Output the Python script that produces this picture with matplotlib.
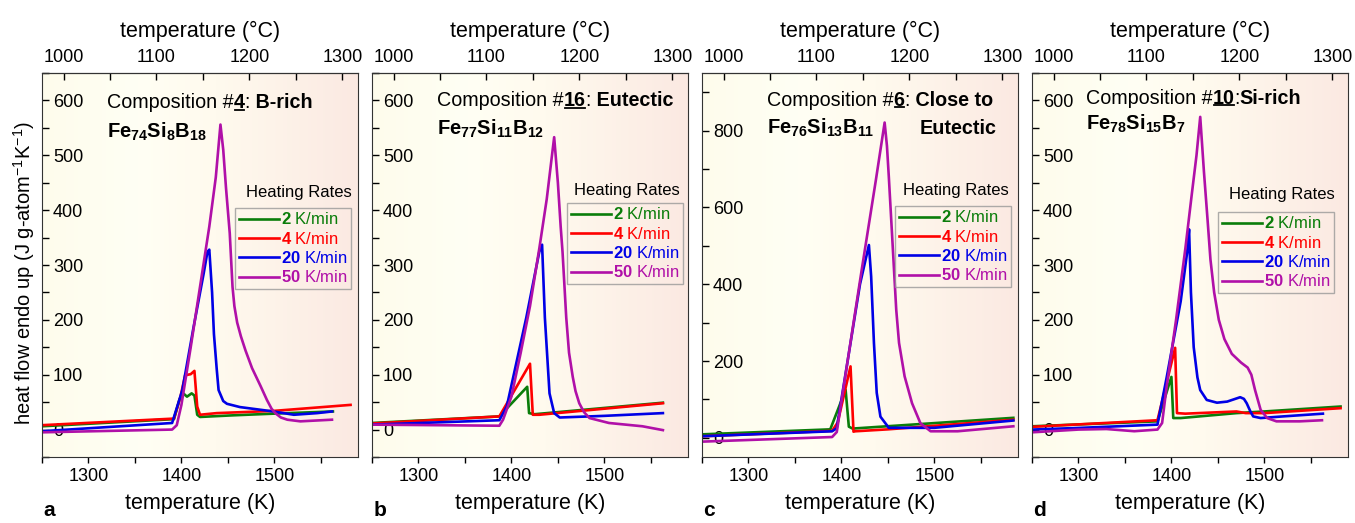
import numpy as np
import matplotlib
matplotlib.use("Agg")
import matplotlib.pyplot as plt
from matplotlib.lines import Line2D
from matplotlib.colors import LinearSegmentedColormap
from matplotlib.ticker import MultipleLocator
from matplotlib.transforms import IdentityTransform

plt.rcParams['font.family'] = ['Liberation Sans', 'DejaVu Sans']
plt.rcParams['mathtext.fontset'] = 'custom'
plt.rcParams['mathtext.rm'] = 'Liberation Sans'
plt.rcParams['mathtext.it'] = 'Liberation Sans:italic'
plt.rcParams['mathtext.bf'] = 'Liberation Sans:bold'

rates = ["2", "4", "20", "50"]
colors = ["#0a7d0a", "#ff0000", "#0000e6", "#b010a8"]

# ---- panel a : composition #4, B-rich ----
a_T2 = [1250, 1392, 1398, 1402, 1406, 1411, 1414, 1417, 1420, 1456, 1499, 1563]
a_y2 = [6, 19, 55, 66, 60, 66, 62, 27, 23, 26, 29, 33]
a_T4 = [1250, 1392, 1399, 1404, 1410, 1414, 1417, 1420, 1438, 1499, 1582]
a_y4 = [8, 20, 60, 99, 101, 107, 42, 27, 30, 34, 45]
a_T20 = [1250, 1390, 1401, 1413, 1424, 1428, 1430, 1433, 1435, 1438, 1440, 1445, 1449, 1463,
         1499, 1521, 1546, 1562]
a_y20 = [-3, 12, 72, 186, 285, 324, 328, 250, 174, 110, 72, 52, 47, 41, 33, 27, 30, 33]
a_T50 = [1250, 1390, 1395, 1400, 1410, 1420, 1430, 1437, 1442, 1445, 1448, 1452, 1455, 1457,
         1460, 1464, 1469, 1476, 1485, 1492, 1497, 1501, 1507, 1514, 1528, 1562]
a_y50 = [-5, 0, 8, 45, 150, 260, 370, 460, 556, 510, 440, 358, 260, 225, 195, 170, 144, 112,
         80, 54, 38, 30, 22, 18, 15, 18]

# ---- panel b : composition #16, eutectic ----
b_T2 = [1250, 1387, 1417, 1419, 1425, 1563]
b_y2 = [12, 24, 78, 30, 28, 49]
b_T4 = [1250, 1387, 1420, 1423, 1430, 1563]
b_y4 = [11, 24, 120, 27, 27, 48]
b_T20 = [1250, 1387, 1395, 1416, 1430, 1433, 1436, 1441, 1446, 1452, 1500, 1563]
b_y20 = [9, 17, 42, 204, 324, 337, 204, 66, 30, 22, 25, 30]
b_T50 = [1250, 1387, 1391, 1400, 1410, 1420, 1430, 1438, 1446, 1450, 1453, 1455, 1459, 1462,
         1466, 1469, 1473, 1478, 1484, 1505, 1541, 1563]
b_y50 = [9, 7, 18, 60, 140, 225, 330, 420, 533, 450, 370, 324, 204, 140, 96, 70, 48, 32, 21,
         12, 6, -1]

# ---- panel c : composition #6, close to eutectic ----
c_T2 = [1250, 1388, 1404.5, 1408, 1412, 1585]
c_y2 = [9, 22, 125, 29, 24, 52]
c_T4 = [1250, 1390, 1396, 1409.8, 1413, 1415, 1450, 1585]
c_y4 = [4, 18, 40, 186, 16, 17, 22, 47]
c_T20 = [1250, 1390, 1395, 1410, 1420, 1429.6, 1432, 1435, 1438, 1442, 1451, 1500, 1585]
c_y20 = [4, 17, 25, 250, 400, 502, 420, 247, 117, 55, 26, 26, 45]
c_T50 = [1250, 1390, 1395, 1400, 1422, 1437, 1446.5, 1449, 1451, 1455, 1459, 1462, 1468, 1476,
         1485, 1496, 1525, 1585]
c_y50 = [-10, 2, 15, 95, 440, 670, 821, 760, 680, 507, 333, 247, 160, 90, 38, 17, 17, 30]

# ---- panel d : composition #10, Si-rich ----
d_T2 = [1250, 1385, 1400, 1402, 1410, 1470, 1500, 1582]
d_y2 = [6, 15, 96, 21, 21, 30, 33, 42]
d_T4 = [1250, 1385, 1404, 1406, 1415, 1470, 1480, 1500, 1582]
d_y4 = [5, 17, 149, 30, 29, 33, 30, 30, 39]
d_T20 = [1250, 1300, 1385, 1395, 1410, 1417, 1419, 1421, 1424, 1428, 1431, 1438, 1449, 1460,
         1474, 1478, 1481, 1485, 1488, 1496, 1520, 1563]
d_y20 = [0, 3, 9, 96, 234, 324, 365, 250, 150, 95, 72, 54, 49, 51, 59, 56, 48, 33, 24, 21, 24,
         29]
d_T50 = [1250, 1300, 1330, 1360, 1385, 1390, 1395, 1405, 1415, 1422, 1427, 1431, 1435, 1439,
         1442, 1446, 1451, 1457, 1465, 1475, 1482, 1486, 1490, 1496, 1503, 1513, 1538, 1562]
d_y50 = [-5, 0, 1, -3, 0, 12, 80, 200, 330, 430, 500, 570, 470, 380, 310, 250, 200, 165, 138,
         122, 113, 100, 72, 36, 21, 15, 15, 17]

panels = [
    dict(T=[a_T2, a_T4, a_T20, a_T50], y=[a_y2, a_y4, a_y20, a_y50], ylim=(-50, 650), major=100,
         minor=50, num="4", tail=" B-rich", formula=r"$\mathbf{Fe_{74}Si_{8}B_{18}}$", extra=None,
         left=42, title_xy=(107, 103), form_y=132, leg=(351, 208), heat=(299, 193), letter="a"),
    dict(T=[b_T2, b_T4, b_T20, b_T50], y=[b_y2, b_y4, b_y20, b_y50], ylim=(-50, 650), major=100,
         minor=50, num="16", tail=" Eutectic", formula=r"$\mathbf{Fe_{77}Si_{11}B_{12}}$", extra=None,
         left=372, title_xy=(437, 101), form_y=129, leg=(683, 203), heat=(627, 190), letter="b"),
    dict(T=[c_T2, c_T4, c_T20, c_T50], y=[c_y2, c_y4, c_y20, c_y50], ylim=(-50, 950), major=200,
         minor=100, num="6", tail=" Close to", formula=r"$\mathbf{Fe_{76}Si_{13}B_{11}}$",
         extra="Eutectic", left=702, title_xy=(767, 100), form_y=128, leg=(1011, 206),
         heat=(956, 190), letter="c"),
    dict(T=[d_T2, d_T4, d_T20, d_T50], y=[d_y2, d_y4, d_y20, d_y50], ylim=(-50, 650), major=100,
         minor=50, num="10", tail="Si-rich", formula=r"$\mathbf{Fe_{78}Si_{15}B_{7}}$", extra=None,
         left=1032, title_xy=(1086, 98), form_y=124, leg=(1334, 212), heat=(1282, 195), letter="d"),
]

W, H = 1355, 523
fig = plt.figure(figsize=(W / 100, H / 100), dpi=100)
ax_w, ax_top, ax_bot = 316, 73, 457
title_fs = 14.2

bg = LinearSegmentedColormap.from_list(
    "bg", [(0, "#fefcec"), (0.3, "#fffff4"), (0.55, "#fffaee"), (1, "#fbe9e2")])

underline = []
for p in panels:
    ax = fig.add_axes([p["left"] / W, 1 - ax_bot / H, ax_w / W, (ax_bot - ax_top) / H])
    ax.imshow(np.linspace(0, 1, 256)[None, :], cmap=bg, aspect="auto",
              extent=[0, 1, 0, 1], transform=ax.transAxes, zorder=0)
    for T, y, c in zip(p["T"], p["y"], colors):
        ax.plot(T, y, color=c, lw=1.9, zorder=2, solid_joinstyle="round")
    ax.set_xlim(1250, 1590)
    ax.set_ylim(*p["ylim"])

    def px(x, y, p=p):
        return ((x - p["left"]) / ax_w, 1 - (y - ax_top) / (ax_bot - ax_top))

    # axes ticks
    ax.xaxis.set_major_locator(MultipleLocator(100))
    ax.xaxis.set_minor_locator(MultipleLocator(50))
    ax.yaxis.set_major_locator(MultipleLocator(p["major"]))
    ax.yaxis.set_minor_locator(MultipleLocator(p["minor"]))
    ax.set_yticks(np.arange(0, p["ylim"][1], p["major"]))
    ax.tick_params(axis="x", which="major", direction="out", length=4, width=1, labelsize=13, pad=4)
    ax.tick_params(axis="x", which="minor", direction="out", length=4, width=1)
    ax.tick_params(axis="y", which="major", direction="in", length=5, width=1, labelsize=13, pad=-8)
    ax.tick_params(axis="y", which="minor", direction="in", length=5, width=1)
    for lab in ax.get_yticklabels():
        lab.set_horizontalalignment("left")
    ax.set_xlabel("temperature (K)", fontsize=15.5, labelpad=6)
    for s in ax.spines.values():
        s.set_color("#333333")

    top = ax.secondary_xaxis("top", functions=(lambda k: k - 273.15, lambda c: c + 273.15))
    top.set_xticks([1000, 1100, 1200, 1300])
    top.xaxis.set_minor_locator(MultipleLocator(50))
    top.tick_params(axis="x", which="both", direction="in", length=5, width=1, labelsize=13, pad=5)
    top.set_xlabel("temperature (°C)", fontsize=15.5, labelpad=9)

    # title pieces
    tx, ty = px(*p["title_xy"])
    t1 = ax.text(tx, ty, "Composition #", transform=ax.transAxes, fontsize=title_fs,
                 va="center", ha="left")
    t2 = ax.annotate(p["num"], xy=(1, 0), xycoords=t1, fontsize=title_fs, fontweight="bold",
                     va="bottom", ha="left")
    t3 = ax.annotate(":", xy=(1, 0), xycoords=t2, fontsize=title_fs, va="bottom", ha="left")
    ax.annotate(p["tail"], xy=(1, 0), xycoords=t3, fontsize=title_fs, fontweight="bold",
                va="bottom", ha="left")
    underline.append(t2)
    fx, fy = px(p["title_xy"][0], p["form_y"])
    ax.text(fx, fy, p["formula"], transform=ax.transAxes, fontsize=title_fs + 0.3,
            va="center", ha="left")
    if p["extra"]:
        ex, ey = px(920, p["form_y"])
        ax.text(ex, ey, p["extra"], transform=ax.transAxes, fontsize=title_fs, fontweight="bold",
                va="center", ha="left")

    # legend
    handles = [Line2D([], [], color=c, lw=1.9) for c in colors]
    labels = [r"$\mathbf{%s}$ K/min" % r for r in rates]
    lx, ly = px(*p["leg"])
    leg = ax.legend(handles, labels, loc="upper right", bbox_to_anchor=(lx, ly),
                    fontsize=12, labelcolor="linecolor", frameon=True, fancybox=False,
                    handlelength=2.4, handletextpad=0.15, labelspacing=0.2, borderpad=0.2,
                    borderaxespad=0)
    leg.get_frame().set_edgecolor("#999999")
    leg.get_frame().set_facecolor("none")
    leg.get_frame().set_linewidth(1)
    hx, hy = px(*p["heat"])
    ax.text(hx, hy, "Heating Rates", transform=ax.transAxes, fontsize=12, ha="center", va="center")

    fig.text(p["left"] / W + 0.001, 1 - 510 / H, p["letter"], fontsize=15, fontweight="bold",
             ha="left", va="center")

fig.text(24 / W, 1 - 273 / H, r"heat flow endo up (J g-atom$^{-1}$K$^{-1}$)", rotation=90,
         fontsize=14.5, ha="center", va="center")

fig.canvas.draw()
for t in underline:
    bb = t.get_window_extent()
    fig.add_artist(Line2D([bb.x0 + 1, bb.x1 - 1], [bb.y0 + 2.5, bb.y0 + 2.5], color="black",
                          lw=1.3, transform=IdentityTransform()))

fig.savefig("out.png", dpi=100)
